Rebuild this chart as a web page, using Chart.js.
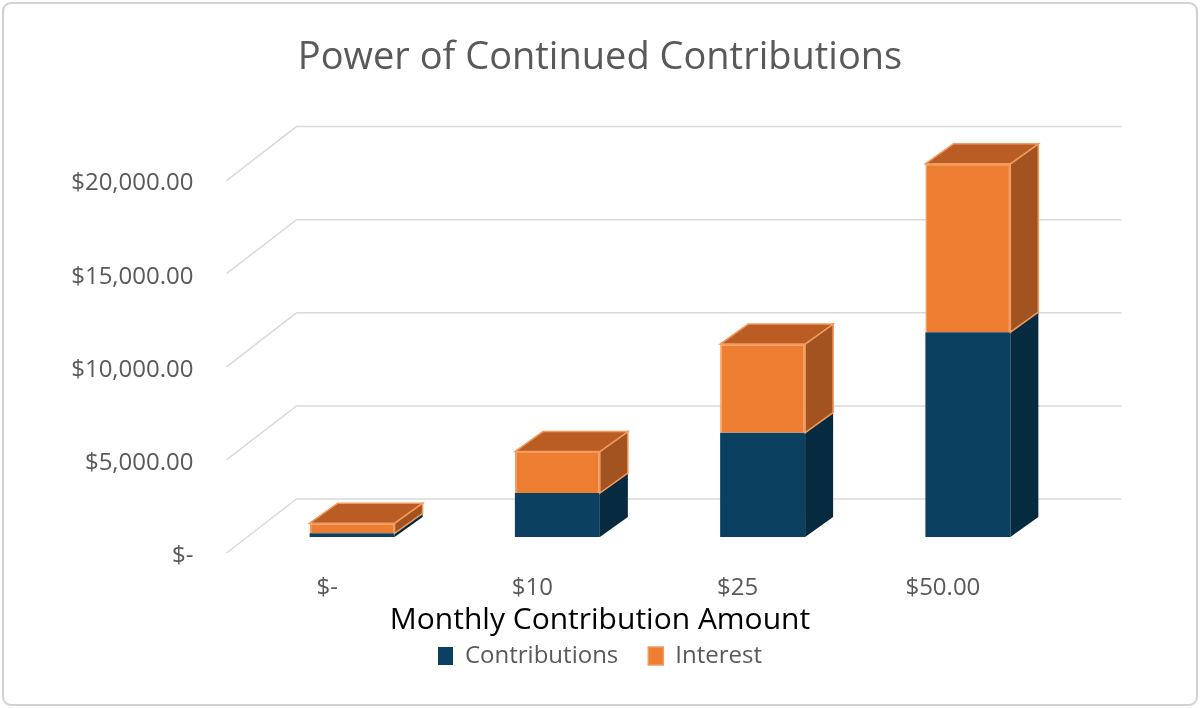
<!DOCTYPE html>
<html>
<head>
<meta charset="utf-8">
<script src="https://cdn.jsdelivr.net/npm/chart.js@4.4.1/dist/chart.umd.min.js"></script>
<style>
  html, body { margin: 0; padding: 0; background: #fff; }
  #wrap { width: 1200px; height: 708px; position: relative; }
</style>
</head>
<body>
<div id="wrap"><canvas id="chart"></canvas></div>
<script>
// data
const categories = ['$-', '$10', '$25', '$50.00'];
const contributions = [200, 2360, 5600, 11000];
const interest = [540, 2230, 4760, 9040];
const yTicks = [0, 5000, 10000, 15000, 20000];
const yTickLabels = ['$-', '$5,000.00', '$10,000.00', '$15,000.00', '$20,000.00'];

const FONT = '"Open Sans", sans-serif';
const GRAY = '#595959';

// fake 3d offsets (pixels)
const BAR_DX = 28, BAR_DY = -20;
const WALL_DX = 47, WALL_DY = -38;
const FRONT_DX = -23, FRONT_DY = 16;

const faceStyles = [
    { side: '#062A40', top: '#0A3550', stroke: null },
    { side: '#A2531F', top: '#BA5D24', stroke: '#F39A5E' }
];

function face(ctx, pts, fill, stroke) {
    ctx.beginPath();
    pts.forEach((p, i) => i ? ctx.lineTo(p[0], p[1]) : ctx.moveTo(p[0], p[1]));
    ctx.closePath();
    ctx.fillStyle = fill;
    ctx.fill();
    if (stroke) {
        ctx.strokeStyle = stroke;
        ctx.lineWidth = 1.5;
        ctx.stroke();
    }
}

const frame = {
    id: 'frame',
    beforeDraw(chart) {
        const ctx = chart.ctx;
        ctx.save();
        ctx.fillStyle = '#fff';
        ctx.fillRect(0, 0, chart.width, chart.height);
        ctx.strokeStyle = '#D0D0D0';
        ctx.lineWidth = 2;
        ctx.beginPath();
        ctx.roundRect(3, 3, chart.width - 6, chart.height - 6, 8);
        ctx.stroke();
        ctx.restore();
    }
};

// back wall gridlines with the slanted floor/side part
const backWall = {
    id: 'backWall',
    beforeDatasetsDraw(chart) {
        const ctx = chart.ctx;
        const area = chart.chartArea;
        const y = chart.scales.y;
        ctx.save();
        ctx.strokeStyle = '#D9D9D9';
        ctx.lineWidth = 1.5;
        yTicks.forEach(v => {
            const py = y.getPixelForValue(v);
            ctx.beginPath();
            ctx.moveTo(area.left + FRONT_DX, py + FRONT_DY);
            ctx.lineTo(area.left + WALL_DX, py + WALL_DY);
            ctx.lineTo(area.right + 51, py + WALL_DY);
            ctx.stroke();
        });
        ctx.restore();
    }
};

// side and top faces of the boxes
const bars3d = {
    id: 'bars3d',
    afterDatasetsDraw(chart) {
        const ctx = chart.ctx;
        ctx.save();
        categories.forEach((c, i) => {
            const segs = chart.data.datasets.map((ds, d) => chart.getDatasetMeta(d).data[i].getProps(['x', 'y', 'base', 'width'], true));
            segs.forEach((s, d) => {
                const r = s.x + s.width / 2;
                const st = faceStyles[d];
                face(ctx, [[r, s.y], [r + BAR_DX, s.y + BAR_DY], [r + BAR_DX, s.base + BAR_DY], [r, s.base]], st.side, st.stroke);
            });
            const d = segs.length - 1;
            const s = segs[d];
            const l = s.x - s.width / 2, r = s.x + s.width / 2;
            const st = faceStyles[d];
            face(ctx, [[l, s.y], [l + BAR_DX, s.y + BAR_DY], [r + BAR_DX, s.y + BAR_DY], [r, s.y]], st.top, st.stroke);
        });
        ctx.restore();
    }
};

new Chart(document.getElementById('chart'), {
    type: 'bar',
    data: {
        labels: categories,
        datasets: [
            {
                label: 'Contributions',
                data: contributions,
                backgroundColor: '#0C4060',
                borderWidth: 0,
                clip: false
            },
            {
                label: 'Interest',
                data: interest,
                backgroundColor: '#ED7D31',
                borderColor: '#F39A5E',
                borderWidth: 1.5,
                clip: false
            }
        ]
    },
    options: {
        responsive: true,
        maintainAspectRatio: false,
        animation: false,
        barPercentage: 0.414,
        categoryPercentage: 1,
        layout: { padding: { top: 0, left: 0, right: 0, bottom: 30 } },
        plugins: {
            title: {
                display: true,
                text: 'Power of Continued Contributions',
                color: GRAY,
                font: { family: FONT, size: 38, weight: 'normal' },
                padding: { top: 35, bottom: 84 }
            },
            subtitle: {
                display: true,
                position: 'bottom',
                weight: 500,
                text: 'Monthly Contribution Amount',
                color: '#000',
                font: { family: FONT, size: 30, weight: 'normal' },
                padding: { top: -5, bottom: -24 }
            },
            legend: {
                position: 'bottom',
                labels: {
                    color: GRAY,
                    font: { family: FONT, size: 24 },
                    boxWidth: 15,
                    boxHeight: 18,
                    padding: 30
                }
            },
            tooltip: { enabled: false }
        },
        scales: {
            x: {
                stacked: true,
                grid: { display: false },
                border: { display: false },
                ticks: {
                    color: GRAY,
                    font: { family: FONT, size: 24 },
                    padding: 29,
                    labelOffset: -25
                },
                afterFit(s) { s.height = 70; }
            },
            y: {
                stacked: true,
                min: 0,
                max: 20000,
                grid: { display: false },
                border: { display: false },
                afterBuildTicks(s) { s.ticks = yTicks.map(v => ({ value: v })); },
                ticks: {
                    color: GRAY,
                    font: { family: FONT, size: 24 },
                    padding: 48,
                    labelOffset: 19,
                    callback: (v, i) => yTickLabels[i]
                },
                afterFit(s) { s.width = 249.5; }
            },
            yRight: {
                position: 'right',
                display: true,
                grid: { display: false },
                border: { display: false },
                ticks: { display: false },
                afterFit(s) { s.width = 129.5; }
            }
        }
    },
    plugins: [frame, backWall, bars3d]
});
</script>
</body>
</html>
